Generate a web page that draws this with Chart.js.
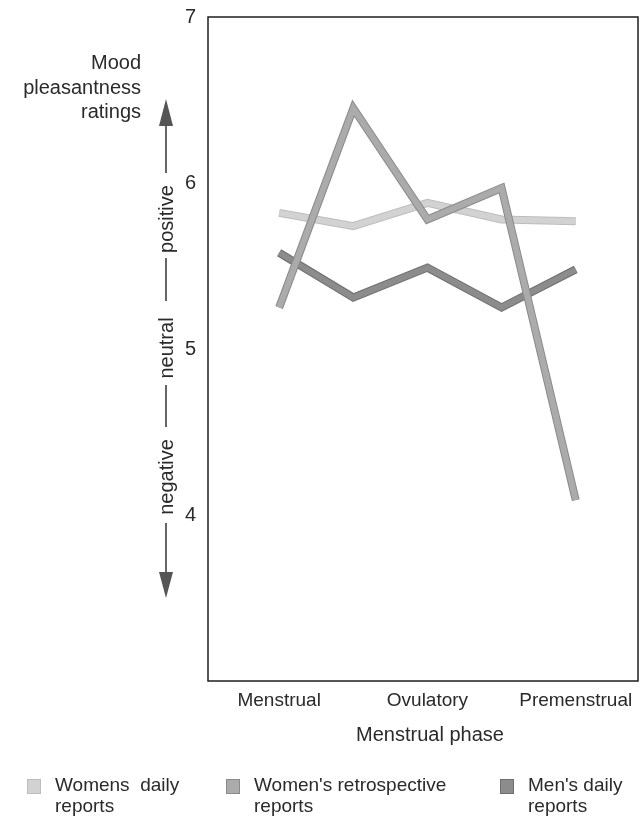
<!DOCTYPE html>
<html>
<head>
<meta charset="utf-8">
<script src="https://cdn.jsdelivr.net/npm/chart.js@4/dist/chart.umd.min.js"></script>
<style>
  html, body { margin: 0; padding: 0; background: #fff; }
  #wrap { position: relative; width: 644px; height: 818px; }
</style>
</head>
<body>
<div id="wrap"><canvas id="c" width="644" height="818"></canvas></div>
<script>
// ---- data ----
const pointIndex = [0, 1, 2, 3, 4];
const phaseTickPositions = [0, 2, 4];
const phaseTickLabels = ['Menstrual', 'Ovulatory', 'Premenstrual'];
const yTickValues = [4, 5, 6, 7];
const womensDaily = [5.82, 5.74, 5.88, 5.78, 5.77];
const womensRetrospective = [5.25, 6.45, 5.78, 5.97, 4.09];
const mensDaily = [5.58, 5.31, 5.49, 5.25, 5.48];
const seriesNames = ['Womens  daily reports', "Women's retrospective reports", "Men's daily reports"];
const legendLines = [['Womens  daily', 'reports'], ["Women's retrospective", 'reports'], ["Men's daily", 'reports']];
const yTitleLines = ['Mood', 'pleasantness', 'ratings'];
const yAnnotations = ['positive', 'neutral', 'negative'];
const xTitle = 'Menstrual phase';

const FONT = '"Liberation Sans", Arial, Helvetica, sans-serif';
const colors = ['#d2d2d2', '#ababab', '#8c8c8c'];
const edges = ['#bdbdbd', '#8a8a8a', '#6e6e6e'];

function pts(arr) { return pointIndex.map((x, i) => ({ x: x, y: arr[i] })); }

const outlinePlugin = {
  id: 'outline',
  beforeDatasetDraw(chart, args) {
    const meta = args.meta;
    const ds = chart.data.datasets[args.index];
    const ctx = chart.ctx;
    ctx.save();
    ctx.strokeStyle = ds.edgeColor;
    ctx.lineWidth = ds.borderWidth + 2;
    ctx.lineJoin = 'miter';
    ctx.lineCap = 'butt';
    ctx.beginPath();
    meta.data.forEach((p, i) => { if (i === 0) ctx.moveTo(p.x, p.y); else ctx.lineTo(p.x, p.y); });
    ctx.stroke();
    ctx.restore();
  }
};

const decorPlugin = {
  id: 'decor',
  afterDraw(chart) {
    const ctx = chart.ctx;
    const a = chart.chartArea;
    ctx.save();
    // frame
    ctx.strokeStyle = '#1e1e1e';
    ctx.lineWidth = 1.5;
    ctx.strokeRect(a.left, a.top, a.right - a.left, a.bottom - a.top);

    // y title
    ctx.fillStyle = '#2a2a2a';
    ctx.font = '20px ' + FONT;
    ctx.textAlign = 'right';
    ctx.textBaseline = 'middle';
    const ty = [63, 88, 112];
    yTitleLines.forEach((t, i) => ctx.fillText(t, 141, ty[i]));

    // arrow axis annotation
    const ax = 166;
    ctx.strokeStyle = '#333';
    ctx.fillStyle = '#555';
    ctx.lineWidth = 1.5;
    const segs = [[123, 173], [258, 301], [385, 427], [523, 575]];
    segs.forEach(s => { ctx.beginPath(); ctx.moveTo(ax, s[0]); ctx.lineTo(ax, s[1]); ctx.stroke(); });
    ctx.beginPath(); ctx.moveTo(ax, 99); ctx.lineTo(ax - 7, 126); ctx.lineTo(ax + 7, 126); ctx.closePath(); ctx.fill();
    ctx.beginPath(); ctx.moveTo(ax, 598); ctx.lineTo(ax - 7, 572); ctx.lineTo(ax + 7, 572); ctx.closePath(); ctx.fill();

    ctx.fillStyle = '#2a2a2a';
    ctx.font = '20px ' + FONT;
    ctx.textAlign = 'center';
    ctx.textBaseline = 'middle';
    const cy = [219, 348, 477];
    yAnnotations.forEach((t, i) => {
      ctx.save();
      ctx.translate(ax + 1, cy[i]);
      ctx.rotate(-Math.PI / 2);
      ctx.fillText(t, 0, 0);
      ctx.restore();
    });

    // x title (centred under the Ovulatory label as in the reference)
    ctx.font = '20px ' + FONT;
    ctx.textAlign = 'center';
    ctx.fillText(xTitle, 430, 735);

    // legend
    const lx = [27, 226, 500];
    ctx.font = '19px ' + FONT;
    ctx.textAlign = 'left';
    ctx.textBaseline = 'middle';
    legendLines.forEach((lines, i) => {
      ctx.fillStyle = colors[i];
      ctx.fillRect(lx[i], 779, 14, 15);
      ctx.strokeStyle = edges[i];
      ctx.lineWidth = 1;
      ctx.strokeRect(lx[i] + 0.5, 779.5, 13, 14);
      ctx.fillStyle = '#2a2a2a';
      ctx.fillText(lines[0], lx[i] + 28, 786);
      ctx.fillText(lines[1], lx[i] + 28, 807);
    });
    ctx.restore();
  }
};

function zeroPad(scale) {
  scale.paddingTop = 0; scale.paddingBottom = 0;
  scale.paddingLeft = 0; scale.paddingRight = 0;
}

new Chart(document.getElementById('c'), {
  type: 'line',
  data: {
    datasets: [
      { label: seriesNames[0], data: pts(womensDaily), borderColor: colors[0], edgeColor: edges[0], borderWidth: 6, order: 2 },
      { label: seriesNames[1], data: pts(womensRetrospective), borderColor: colors[1], edgeColor: edges[1], borderWidth: 6, order: 0 },
      { label: seriesNames[2], data: pts(mensDaily), borderColor: colors[2], edgeColor: edges[2], borderWidth: 6, order: 1 }
    ]
  },
  options: {
    responsive: false,
    animation: false,
    events: [],
    layout: { padding: { left: 0, right: 6, top: 17, bottom: 68 } },
    elements: {
      point: { radius: 0, hoverRadius: 0 },
      line: { tension: 0, borderJoinStyle: 'miter', borderCapStyle: 'butt', fill: false }
    },
    plugins: { legend: { display: false }, tooltip: { enabled: false } },
    scales: {
      x: {
        type: 'linear',
        min: -0.96,
        max: 4.84,
        grid: { display: false, drawTicks: false },
        border: { display: false },
        afterBuildTicks(scale) { scale.ticks = phaseTickPositions.map(v => ({ value: v })); },
        afterFit(scale) { scale.height = 69; zeroPad(scale); },
        ticks: {
          padding: 8,
          maxRotation: 0,
          autoSkip: false,
          color: '#2a2a2a',
          font: { family: FONT, size: 19 },
          callback(v) { const k = phaseTickPositions.indexOf(v); return k >= 0 ? phaseTickLabels[k] : ''; }
        },
        title: { display: false }
      },
      y: {
        min: 3,
        max: 7,
        grid: { display: false, drawTicks: false },
        border: { display: false },
        afterBuildTicks(scale) { scale.ticks = yTickValues.map(v => ({ value: v })); },
        afterFit(scale) { scale.width = 208; zeroPad(scale); },
        ticks: { padding: 12, color: '#2a2a2a', font: { family: FONT, size: 20 } }
      }
    }
  },
  plugins: [outlinePlugin, decorPlugin]
});
</script>
</body>
</html>
